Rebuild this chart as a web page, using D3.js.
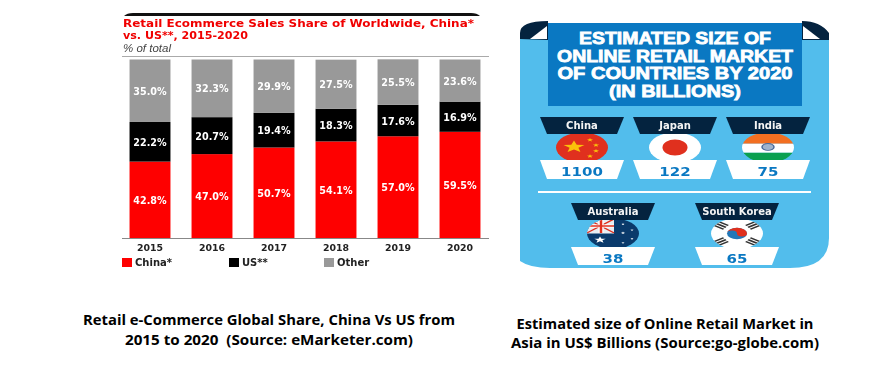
<!DOCTYPE html>
<html>
<head>
<meta charset="utf-8">
<script src="https://cdn.jsdelivr.net/npm/d3@7"></script>
<style>
html,body{margin:0;padding:0;background:#fff;}
svg{display:block;}
.soft{filter:blur(0.45px);}
</style>
</head>
<body>
<svg id="chart" width="895" height="365"></svg>
<script>
// left chart data
var years=["2015","2016","2017","2018","2019","2020"];
var china=[42.8,47.0,50.7,54.1,57.0,59.5];
var us=[22.2,20.7,19.4,18.3,17.6,16.9];
var other=[35.0,32.3,29.9,27.5,25.5,23.6];
var seriesNames=["China*","US**","Other"];
var seriesColors=["#fe0000","#000000","#999999"];

// right panel data
var topCountries=["China","Japan","India"];
var topSizes=[1100,122,75];
var bottomCountries=["Australia","South Korea"];
var bottomSizes=[38,65];
var panelTitle=["ESTIMATED SIZE OF","ONLINE RETAIL MARKET","OF COUNTRIES BY 2020","(IN BILLIONS)"];

var svg=d3.select("#chart");

//--------------------------LEFT: STACKED BARS------------------------
var left=svg.append("g").attr("class","soft");

var x=d3.scaleBand().domain(years).range([119,491]).paddingInner(0.34).paddingOuter(0.17);
var y=d3.scaleLinear().domain([0,100]).range([238,59.5]);

var rows=years.map(function(d,i){return {year:d,china:china[i],us:us[i],other:other[i]};});
var stack=d3.stack().keys(["china","us","other"]);
var layers=stack(rows);

left.append("path").attr("d","M124,16 Q127,13 133,13 L471,13 Q477,13 480,16 Z").attr("fill","#111");
left.append("text").attr("x",123).attr("y",27).attr("font-family","DejaVu Sans").attr("font-weight","bold")
    .attr("font-size",10.8).attr("fill","#f00000").attr("textLength",351).attr("lengthAdjust","spacingAndGlyphs")
    .text("Retail Ecommerce Sales Share of Worldwide, China*");
left.append("text").attr("x",123).attr("y",38.5).attr("font-family","DejaVu Sans").attr("font-weight","bold")
    .attr("font-size",10.8).attr("fill","#f00000").attr("textLength",125).attr("lengthAdjust","spacingAndGlyphs")
    .text("vs. US**, 2015-2020");
left.append("text").attr("x",123).attr("y",52).attr("font-family","Liberation Sans").attr("font-style","italic")
    .attr("font-size",11.5).attr("fill","#444").text("% of total");
left.append("line").attr("x1",122).attr("x2",489).attr("y1",56.5).attr("y2",56.5).attr("stroke","#aaa").attr("stroke-width",1);

layers.forEach(function(layer,k){
    left.selectAll(".seg"+k).data(layer).enter().append("rect").attr("class","seg"+k)
        .attr("x",function(d){return x(d.data.year);})
        .attr("y",function(d){return y(d[1]);})
        .attr("width",x.bandwidth())
        .attr("height",function(d){return y(d[0])-y(d[1]);})
        .attr("fill",seriesColors[k]);
    left.selectAll(".lab"+k).data(layer).enter().append("text").attr("class","lab"+k)
        .attr("x",function(d){return x(d.data.year)+x.bandwidth()/2;})
        .attr("y",function(d){return (y(d[0])+y(d[1]))/2+4;})
        .attr("text-anchor","middle").attr("font-family","DejaVu Sans").attr("font-weight","bold")
        .attr("font-size",9.6).attr("fill","#fff")
        .text(function(d){return (d[1]-d[0]).toFixed(1)+"%";});
});

var xAxis=left.append("g").attr("transform","translate(0,238)").call(d3.axisBottom(x).tickSize(0).tickPadding(6));
xAxis.select(".domain").attr("d","M122,0.5H489").attr("stroke","#888");
xAxis.selectAll("text").attr("font-family","DejaVu Sans").attr("font-weight","bold").attr("font-size",9.4).attr("fill","#222");

var legendX=d3.scaleOrdinal().domain(seriesNames).range([122,229,324]);
seriesNames.forEach(function(name,i){
    left.append("rect").attr("x",legendX(name)).attr("y",258).attr("width",10).attr("height",9).attr("fill",seriesColors[i]);
    left.append("text").attr("x",legendX(name)+13).attr("y",266).attr("font-family","DejaVu Sans").attr("font-weight","bold")
        .attr("font-size",10).attr("fill","#222").text(name);
});

//--------------------------RIGHT: INFOGRAPHIC------------------------
var right=svg.append("g").attr("class","soft");

var defs=svg.append("defs");

right.append("path").attr("fill","#52bdec")
    .attr("d","M520,39 L829,39 L829,238 Q829,268 790,268 L550,268 Q530,268 520,261 Z");
right.append("path").attr("fill","#04233f")
    .attr("d","M520,39 L520,33 Q520,21 548,21 L802,21 Q820,21 829,33 L829,40 L802,40 L802,21 L548,21 L548,40 Z");
right.append("path").attr("fill","#ffffff").attr("d","M530,39 L547,26 L547,39 Z");
right.append("path").attr("fill","#ffffff").attr("d","M803,26 L820,39 L803,39 Z");
right.append("rect").attr("x",548).attr("y",23).attr("width",254).attr("height",83).attr("fill","#0a78c2");

var titleWidths=[192,236,235,132];
var titleY=d3.scalePoint().domain(panelTitle).range([44,97]);
right.selectAll(".ptitle").data(panelTitle).enter().append("text").attr("class","ptitle")
    .attr("x",675).attr("y",function(d){return titleY(d);})
    .attr("text-anchor","middle").attr("font-family","Liberation Sans").attr("font-weight","bold")
    .attr("font-size",17).attr("fill","#fff").attr("stroke","#fff").attr("stroke-width",0.8)
    .attr("textLength",function(d,i){return titleWidths[i];}).attr("lengthAdjust","spacingAndGlyphs")
    .text(function(d){return d;});

right.append("rect").attr("x",538).attr("y",191).attr("width",273).attr("height",2).attr("fill","#fff");

function star(g,cx,cy,r,fill,rot){
    var pts=d3.range(10).map(function(i){
        var a=(rot||0)-Math.PI/2+i*Math.PI/5, rr=i%2?r*0.42:r;
        return [cx+rr*Math.cos(a),cy+rr*Math.sin(a)];
    });
    g.append("polygon").attr("points",pts.join(" ")).attr("fill",fill);
}

var flags={
    "China":function(g,r){
        g.append("rect").attr("x",-r).attr("y",-r).attr("width",2*r).attr("height",2*r).attr("fill","#e0301e");
        star(g,-8,-1,11,"#fbc20a");
        star(g,8,-13,3.2,"#fbc20a");star(g,14,-4,3.2,"#fbc20a");star(g,14,6,3.2,"#fbc20a");star(g,8,15,3.2,"#fbc20a");
    },
    "Japan":function(g,r){
        g.append("rect").attr("x",-r).attr("y",-r).attr("width",2*r).attr("height",2*r).attr("fill","#fff");
        g.append("ellipse").attr("rx",12.5).attr("ry",14).attr("fill","#e0301e");
    },
    "India":function(g,r){
        g.append("rect").attr("x",-r).attr("y",-r).attr("width",2*r).attr("height",r*0.75).attr("fill","#f26f21");
        g.append("rect").attr("x",-r).attr("y",-r*0.25).attr("width",2*r).attr("height",r*0.6).attr("fill","#fff");
        g.append("rect").attr("x",-r).attr("y",r*0.35).attr("width",2*r).attr("height",r).attr("fill","#0aa050");
        g.append("circle").attr("cy",-1).attr("r",6).attr("fill","#9fb3cc").attr("stroke","#4a6a99").attr("stroke-width",1.5);
    },
    "Australia":function(g,r){
        g.append("rect").attr("x",-r).attr("y",-r).attr("width",2*r).attr("height",2*r).attr("fill","#0a3a6b");
        g.append("rect").attr("x",-r).attr("y",-r).attr("width",r+1).attr("height",r).attr("fill","#e8eef3");
        g.append("path").attr("d","M-26,-25L1,-1M-26,-1L1,-25").attr("stroke","#e0301e").attr("stroke-width",2);
        g.append("path").attr("d","M-12,-26V-1M-26,-13H1").attr("stroke","#fff").attr("stroke-width",5);
        g.append("path").attr("d","M-12,-26V-1M-26,-13H1").attr("stroke","#e0301e").attr("stroke-width",2.5);
        star(g,-13,11,6,"#fff");
        star(g,10,-1,2.4,"#fff");star(g,19,-6,1.8,"#fff");star(g,19,9,1.8,"#fff");star(g,10,-16,1.8,"#fff");star(g,10,16,1.8,"#fff");
    },
    "South Korea":function(g,r){
        g.append("rect").attr("x",-r).attr("y",-r).attr("width",2*r).attr("height",2*r).attr("fill","#fff");
        g.append("circle").attr("r",10).attr("fill","#2277b8");
        g.append("path").attr("d","M-10,0A10,10 0 0 1 10,0A5,5 0 0 1 0,0A5,5 0 0 0 -10,0Z").attr("fill","#e0301e");
        [[-16,-14,1],[16,-14,-1],[-16,14,-1],[16,14,1]].forEach(function(t){
            g.append("path").attr("transform","translate("+t[0]+","+t[1]+") rotate("+(t[2]*35)+")")
                .attr("d","M-6,-4H6M-6,0H6M-6,4H6").attr("stroke","#333").attr("stroke-width",2.4);
        });
    }
};

function drawRow(names,sizes,range,bannerY,circleY,boxY,boxH){
    var cx=d3.scalePoint().domain(names).range(range);
    names.forEach(function(name,i){
        var c=cx(name), r=26;
        var g=right.append("g");
        var id="clip"+name.replace(" ","");
        defs.append("clipPath").attr("id",id).append("circle").attr("r",r);
        // le drapeau est écrasé en hauteur comme sur l'image d'origine
        var flag=g.append("g").attr("transform","translate("+c+","+circleY+") scale(1,0.58)");
        flags[name](flag.append("g").attr("clip-path","url(#"+id+")"),r);
        g.append("polygon").attr("fill","#04233f")
            .attr("points",[[c-42,bannerY],[c+42,bannerY],[c+35,bannerY+17],[c-35,bannerY+17]].join(" "));
        g.append("text").attr("x",c).attr("y",bannerY+11.5).attr("text-anchor","middle")
            .attr("font-family","DejaVu Sans").attr("font-weight","bold").attr("font-size",10).attr("fill","#f4f4f4").text(name);
        g.append("polygon").attr("fill","#fff")
            .attr("points",[[c-42,boxY],[c+42,boxY],[c+35,boxY+boxH],[c-35,boxY+boxH]].join(" "));
        var val=g.append("text").attr("x",c).attr("y",boxY+16).attr("text-anchor","middle")
            .attr("font-family","DejaVu Sans").attr("font-weight","bold").attr("font-size",12).attr("fill","#0a78c2").text(sizes[i]);
        val.attr("textLength",val.node().getComputedTextLength()*1.25).attr("lengthAdjust","spacingAndGlyphs");
    });
}
drawRow(topCountries,topSizes,[582,768],117,147.5,160,19);
drawRow(bottomCountries,bottomSizes,[613,737],203,233.5,247,18);

//--------------------------CAPTIONS------------------------
var captions=[
    {t:"Retail e-Commerce Global Share, China Vs US from",x:269,y:325,w:372},
    {t:"2015 to 2020  (Source: eMarketer.com)",x:269,y:345,w:288},
    {t:"Estimated size of Online Retail Market in",x:665,y:329,w:297},
    {t:"Asia in US$ Billions (Source:go-globe.com)",x:665,y:348,w:308}
];
svg.selectAll(".cap").data(captions).enter().append("text").attr("class","cap")
    .attr("x",function(d){return d.x;}).attr("y",function(d){return d.y;})
    .attr("text-anchor","middle").attr("font-family","Open Sans").attr("font-weight","700")
    .attr("font-size",14.5).attr("fill","#000").style("white-space","pre")
    .attr("textLength",function(d){return d.w;}).attr("lengthAdjust","spacingAndGlyphs")
    .text(function(d){return d.t;});
</script>
</body>
</html>
